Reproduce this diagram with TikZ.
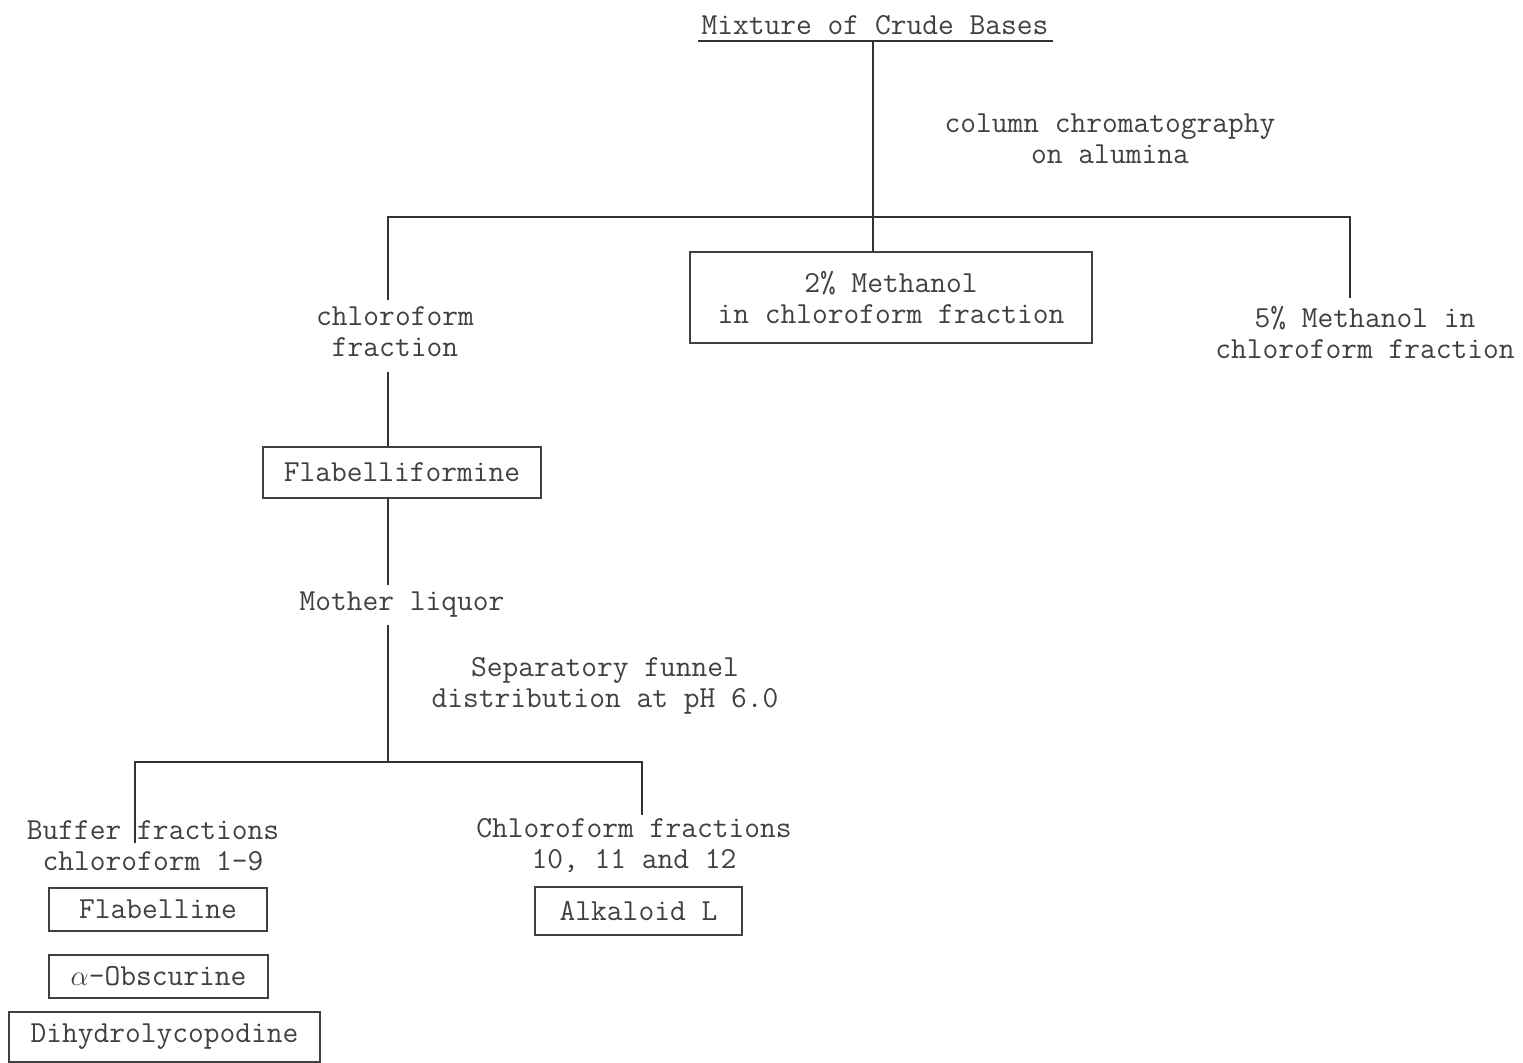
\documentclass[tikz,border=0pt]{standalone}
\begin{document}
\begin{tikzpicture}[x=0.5pt,y=-0.5pt,
  every node/.style={font=\fontsize{15.3}{15.5}\selectfont\ttfamily, text=black!75, inner sep=0pt, align=center},
  conn/.style={draw=black!80, line width=1pt},
  resultbox/.style={draw=black!75, line width=0.9pt, minimum height=21.5pt}]
\useasboundingbox (0,0) rectangle (1523,1062);
% nodes
\node (title) at (875,25) {Mixture of Crude Bases};
\node (cc) at (1110,139) {column chromatography\\on alumina};
\node (chl) at (395,332) {chloroform\\fraction};
\node[resultbox, minimum width=201pt, minimum height=45.5pt] (m2) at (891,297.5) {2\% Methanol\\in chloroform fraction};
\node (m5) at (1365,332) {5\% Methanol in\\chloroform fraction};
\node[resultbox, minimum width=139pt, minimum height=25.5pt] (flab) at (402,472.5) {Flabelliformine};
\node (ml) at (402,605) {Mother liquor};
\node (sep) at (605,686) {Separatory funnel\\distribution at pH 6.0};
\node (buf) at (153,846) {Buffer fractions\\chloroform 1-9};
\node (chf) at (634,846) {Chloroform fractions\\10, 11 and 12};
\node[resultbox, minimum width=109pt] (fl) at (158,909.5) {Flabelline};
\node[resultbox, minimum width=109.5pt] (ob) at (158.5,976.5) {$\alpha$-Obscurine};
\node[resultbox, minimum width=155.5pt, minimum height=25pt] (dh) at (164.5,1037) {Dihydrolycopodine};
\node[resultbox, minimum width=103.5pt, minimum height=24pt] (al) at (638.5,911) {Alkaloid L};
% coordinates
\coordinate (ul) at (698,41);
\coordinate (ur) at (1053,41);
\coordinate (busL) at (388,217);
\coordinate (busR) at (1350,217);
\coordinate (chlTop) at (388,300);
\coordinate (m5Top) at (1350,298);
\coordinate (chlBot) at (388,372);
\coordinate (mlTop) at (388,585);
\coordinate (mlBot) at (388,625);
\coordinate (bus2) at (388,762);
\coordinate (bus2L) at (135,762);
\coordinate (bus2R) at (642,762);
\coordinate (bufTop) at (135,843);
\coordinate (chfTop) at (642,815);
% connectors
\draw[conn, line width=0.9pt] (ul) -- (ur);
\draw[conn] (873,41) -- (m2.north -| 873,0);
\draw[conn] (chlTop) -- (busL) -- (busR) -- (m5Top);
\draw[conn] (chlBot) -- (flab.north -| chlBot);
\draw[conn] (flab.south -| chlBot) -- (mlTop);
\draw[conn] (mlBot) -- (bus2);
\draw[conn] (bufTop) -- (bus2L) -- (bus2R) -- (chfTop);
\end{tikzpicture}
\end{document}
